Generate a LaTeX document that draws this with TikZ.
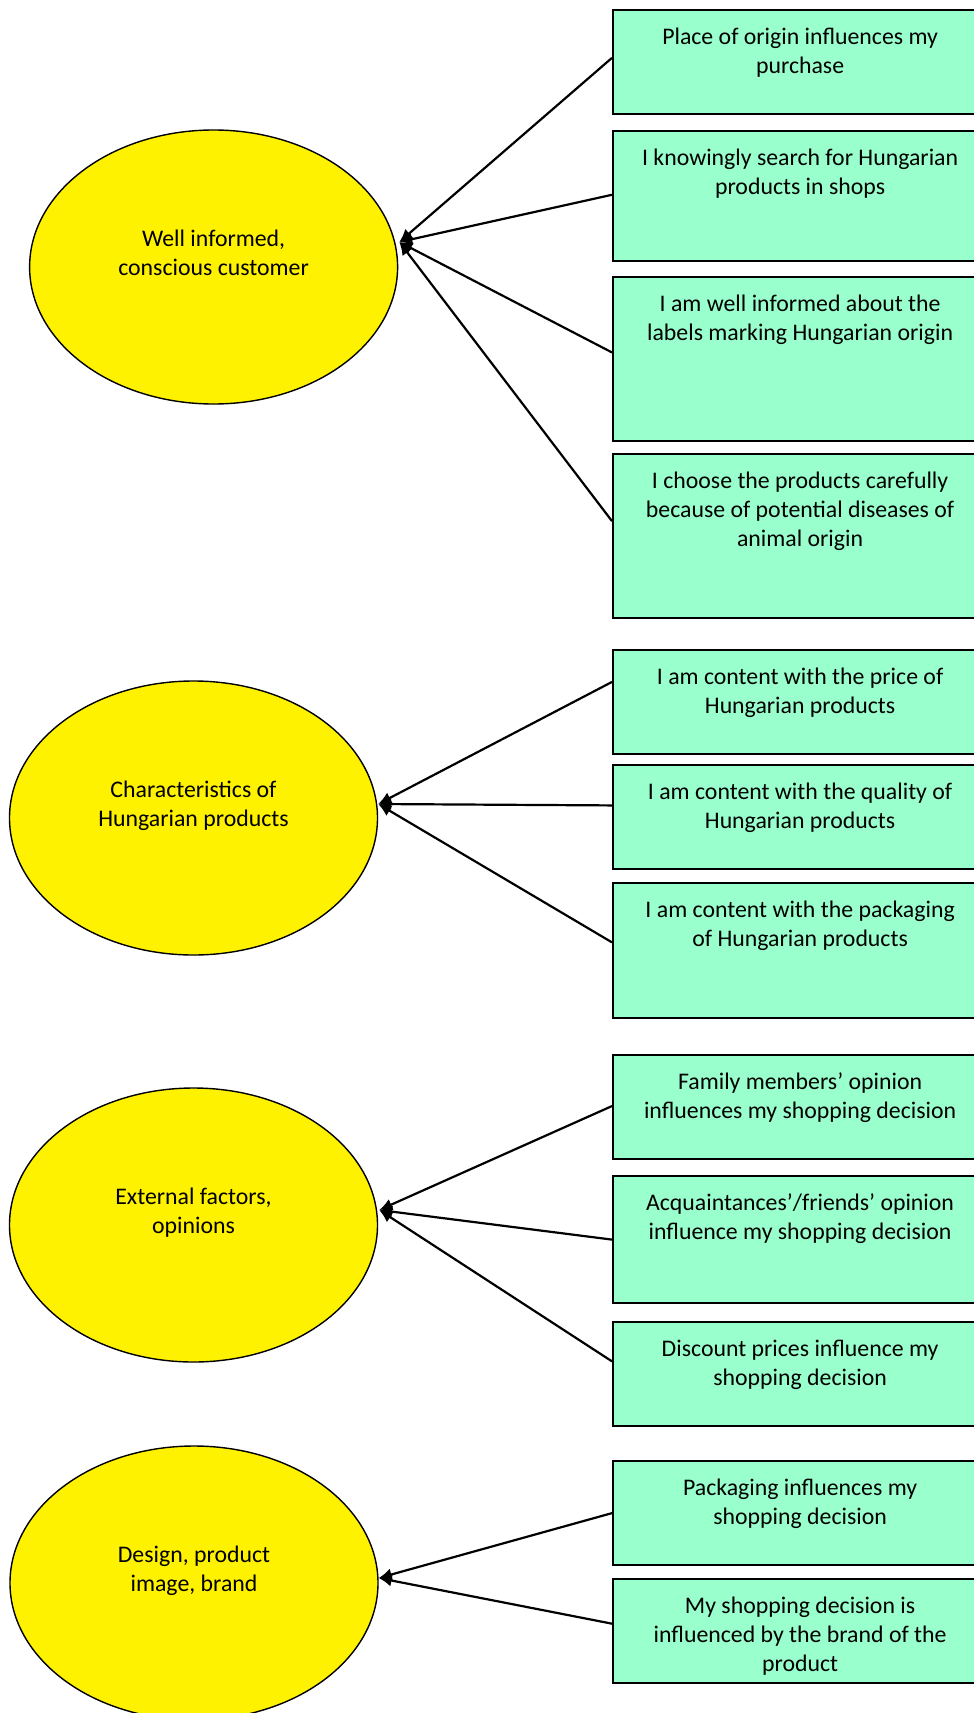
\documentclass[tikz,border=0pt]{standalone}
\usepackage{fontspec}
\setmainfont{Carlito}
\usetikzlibrary{shapes.geometric,arrows.meta,calc}
\definecolor{mint}{RGB}{153,255,204}
\tikzset{
  factor/.style={ellipse, draw, line width=0.7pt, fill=yellow, minimum width=184pt, minimum height=137pt, inner sep=0pt, align=center, font=\fontsize{11.9pt}{14.5pt}\selectfont},
  stmt/.style={draw, line width=1.1pt, fill=mint, anchor=north west, inner xsep=4pt, inner ysep=0pt, text width=179pt, align=flush center, text height=17pt, text depth=35pt, font=\fontsize{11.9pt}{14.5pt}\selectfont}
}
\begin{document}
\begin{tikzpicture}[x=0.5pt, y=-0.5pt, >={Latex[length=6.5pt,width=6pt]}]
\useasboundingbox (0,0) rectangle (974,1713);
% factors
\node[factor] (e1) at (213.6,267) {Well informed,\\conscious customer\\\mbox{}};
\node[factor] (e2) at (193.5,818) {Characteristics of\\Hungarian products\\\mbox{}};
\node[factor] (e3) at (193.5,1225) {External factors,\\opinions\\\mbox{}};
\node[factor] (e4) at (194,1583) {Design, product\\image, brand\\\mbox{}};
\coordinate (t1) at ($(e1.east)+(1,-25)$);
\coordinate (t2) at ($(e2.east)+(0,-14)$);
\coordinate (t3) at ($(e3.east)+(1,-15)$);
\coordinate (t4) at ($(e4.east)+(0,-5)$);
% statements
\node[stmt] (b1) at (612,9) {Place of origin influences my\\purchase};
\node[stmt, text depth=48pt] (b2) at (612,130) {I knowingly search for Hungarian\\products in shops};
\node[stmt, text depth=65pt] (b3) at (612,276) {I am well informed about the\\labels marking Hungarian origin};
\node[stmt, text depth=65pt] (b4) at (612,453) {I choose the products carefully\\because of potential diseases of\\animal origin};
\node[stmt] (b5) at (612,649) {I am content with the price of\\Hungarian products};
\node[stmt] (b6) at (612,764) {I am content with the quality of\\Hungarian products};
\node[stmt, text depth=50.5pt] (b7) at (612,882) {I am content with the packaging\\of Hungarian products};
\node[stmt] (b8) at (612,1054) {Family members’ opinion\\influences my shopping decision};
\node[stmt, text depth=46.5pt] (b9) at (612,1175) {Acquaintances’/friends’ opinion\\influence my shopping decision};
\node[stmt] (b10) at (612,1321) {Discount prices influence my\\shopping decision};
\node[stmt] (b11) at (612,1460) {Packaging influences my\\shopping decision};
\node[stmt] (b12) at (612,1578) {My shopping decision is\\influenced by the brand of the\\product};
% arrows
\foreach \b/\f/\t in {b1/0.46/t1, b2/0.49/t1, b3/0.46/t1, b4/0.41/t1, b5/0.31/t2, b6/0.39/t2, b7/0.44/t2, b8/0.49/t3, b9/0.5/t3, b10/0.38/t3, b11/0.5/t4, b12/0.43/t4}
{
    \draw[->, line width=1.1pt] ($(\b.north west)!\f!(\b.south west)$) -- (\t);
}
\end{tikzpicture}
\end{document}
